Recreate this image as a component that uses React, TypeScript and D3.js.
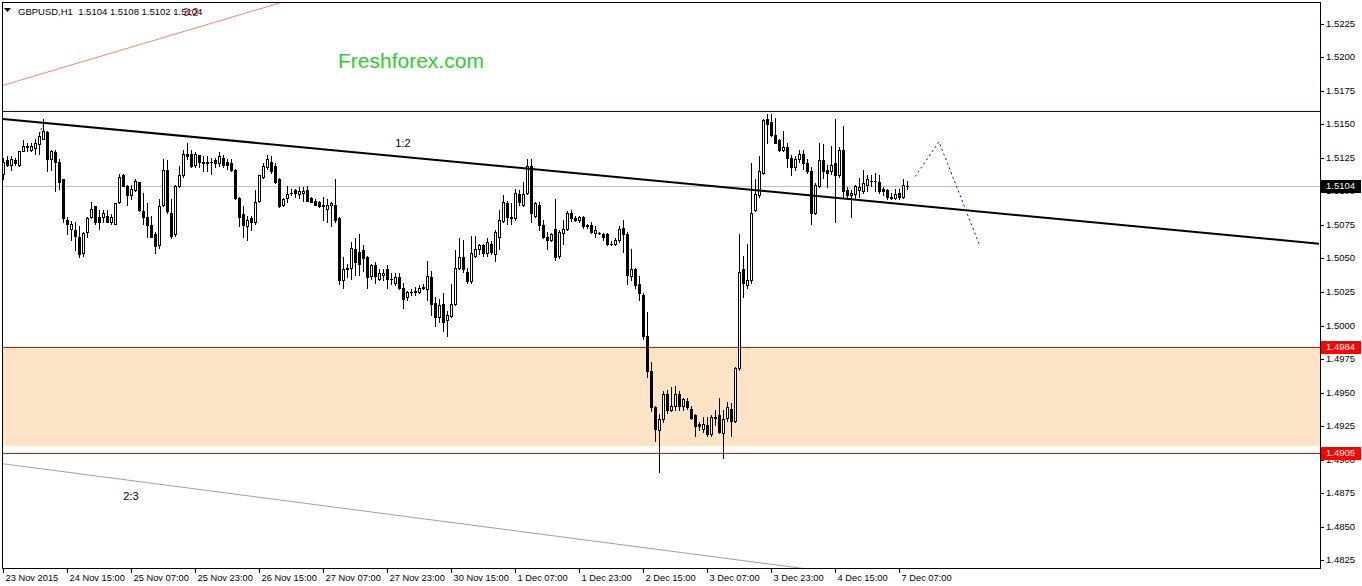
import React, {useEffect, useRef} from "react";
import * as d3 from "d3";

// GBPUSD H1, 23 Nov 2015 23:00 .. 7 Dec 2015 09:00 (one entry per hourly bar)
const opens = [
    1.5113, 1.5123, 1.5120, 1.5123, 1.5120, 1.5130, 1.5133, 1.5131, 1.5132, 1.5135,
    1.5139, 1.5144, 1.5124, 1.5129, 1.5122, 1.5109, 1.5079, 1.5072, 1.5071, 1.5066,
    1.5054, 1.5070, 1.5081, 1.5089, 1.5081, 1.5081, 1.5082, 1.5077, 1.5076, 1.5092,
    1.5112, 1.5104, 1.5097, 1.5101, 1.5107, 1.5085, 1.5081, 1.5075, 1.5068, 1.5060,
    1.5090, 1.5116, 1.5084, 1.5068, 1.5104, 1.5112, 1.5128, 1.5128, 1.5120, 1.5127,
    1.5122, 1.5121, 1.5122, 1.5123, 1.5121, 1.5125, 1.5122, 1.5121, 1.5116, 1.5095,
    1.5083, 1.5074, 1.5080, 1.5077, 1.5093, 1.5111, 1.5118, 1.5122, 1.5119, 1.5109,
    1.5090, 1.5095, 1.5099, 1.5101, 1.5098, 1.5099, 1.5101, 1.5095, 1.5093, 1.5092,
    1.5090, 1.5087, 1.5090, 1.5090, 1.5080, 1.5034, 1.5042, 1.5043, 1.5057, 1.5055,
    1.5056, 1.5051, 1.5037, 1.5045, 1.5035, 1.5038, 1.5042, 1.5035, 1.5032, 1.5036,
    1.5028, 1.5021, 1.5025, 1.5025, 1.5025, 1.5028, 1.5027, 1.5036, 1.5017, 1.5006,
    1.5016, 1.5004, 1.5007, 1.5016, 1.5043, 1.5051, 1.5040, 1.5033, 1.5052, 1.5057,
    1.5060, 1.5054, 1.5061, 1.5053, 1.5066, 1.5078, 1.5091, 1.5081, 1.5080, 1.5098,
    1.5090, 1.5099, 1.5119, 1.5082, 1.5090, 1.5075, 1.5066, 1.5064, 1.5072, 1.5052,
    1.5069, 1.5072, 1.5084, 1.5080, 1.5079, 1.5081, 1.5074, 1.5075, 1.5069, 1.5069,
    1.5068, 1.5068, 1.5061, 1.5061, 1.5064, 1.5073, 1.5068, 1.5037, 1.5042, 1.5031,
    1.5023, 1.4992, 1.4966, 1.4939, 1.4922, 1.4930, 1.4949, 1.4937, 1.4940, 1.4949,
    1.4940, 1.4944, 1.4938, 1.4933, 1.4927, 1.4923, 1.4926, 1.4919, 1.4932, 1.4933,
    1.4920, 1.4931, 1.4938, 1.4929, 1.4968, 1.5042, 1.5030, 1.5034, 1.5086, 1.5097,
    1.5114, 1.5154, 1.5152, 1.5142, 1.5138, 1.5131, 1.5133, 1.5125, 1.5118, 1.5124,
    1.5128, 1.5121, 1.5115, 1.5084, 1.5104, 1.5123, 1.5116, 1.5115, 1.5121, 1.5112,
    1.5131, 1.5101, 1.5097, 1.5098, 1.5101, 1.5100, 1.5105, 1.5108, 1.5108, 1.5107,
    1.5102, 1.5101, 1.5096, 1.5095, 1.5099, 1.5096, 1.5104,
];
const highs = [
    1.5125, 1.5126, 1.5126, 1.5125, 1.5130, 1.5138, 1.5136, 1.5136, 1.5139, 1.5144,
    1.5154, 1.5145, 1.5131, 1.5131, 1.5124, 1.5109, 1.5081, 1.5078, 1.5077, 1.5074,
    1.5070, 1.5081, 1.5092, 1.5089, 1.5086, 1.5086, 1.5086, 1.5083, 1.5091, 1.5113,
    1.5113, 1.5105, 1.5105, 1.5109, 1.5107, 1.5099, 1.5091, 1.5082, 1.5070, 1.5094,
    1.5124, 1.5123, 1.5094, 1.5105, 1.5119, 1.5131, 1.5136, 1.5131, 1.5129, 1.5127,
    1.5126, 1.5126, 1.5125, 1.5125, 1.5129, 1.5127, 1.5124, 1.5124, 1.5117, 1.5096,
    1.5089, 1.5082, 1.5082, 1.5101, 1.5112, 1.5121, 1.5127, 1.5126, 1.5121, 1.5110,
    1.5095, 1.5104, 1.5102, 1.5102, 1.5103, 1.5103, 1.5104, 1.5096, 1.5094, 1.5093,
    1.5096, 1.5094, 1.5092, 1.5109, 1.5081, 1.5051, 1.5046, 1.5062, 1.5065, 1.5068,
    1.5060, 1.5052, 1.5046, 1.5047, 1.5042, 1.5042, 1.5045, 1.5039, 1.5039, 1.5039,
    1.5032, 1.5026, 1.5027, 1.5029, 1.5030, 1.5031, 1.5048, 1.5041, 1.5021, 1.5020,
    1.5024, 1.5011, 1.5031, 1.5056, 1.5065, 1.5064, 1.5043, 1.5067, 1.5067, 1.5061,
    1.5061, 1.5065, 1.5063, 1.5071, 1.5086, 1.5097, 1.5093, 1.5091, 1.5102, 1.5101,
    1.5107, 1.5124, 1.5124, 1.5092, 1.5092, 1.5079, 1.5070, 1.5069, 1.5094, 1.5071,
    1.5079, 1.5085, 1.5086, 1.5082, 1.5082, 1.5082, 1.5076, 1.5077, 1.5074, 1.5070,
    1.5069, 1.5069, 1.5063, 1.5065, 1.5074, 1.5079, 1.5070, 1.5057, 1.5043, 1.5037,
    1.5024, 1.5010, 1.4973, 1.4940, 1.4934, 1.4951, 1.4952, 1.4954, 1.4955, 1.4951,
    1.4946, 1.4946, 1.4940, 1.4934, 1.4928, 1.4932, 1.4932, 1.4933, 1.4937, 1.4946,
    1.4937, 1.4943, 1.4942, 1.4969, 1.5068, 1.5052, 1.5061, 1.5121, 1.5109, 1.5126,
    1.5154, 1.5158, 1.5158, 1.5155, 1.5139, 1.5145, 1.5136, 1.5127, 1.5126, 1.5131,
    1.5131, 1.5124, 1.5118, 1.5106, 1.5136, 1.5135, 1.5120, 1.5134, 1.5154, 1.5133,
    1.5149, 1.5103, 1.5101, 1.5105, 1.5110, 1.5116, 1.5112, 1.5112, 1.5114, 1.5112,
    1.5103, 1.5102, 1.5099, 1.5102, 1.5102, 1.5109, 1.5108,
];
const lows = [
    1.5109, 1.5119, 1.5116, 1.5120, 1.5119, 1.5130, 1.5130, 1.5130, 1.5128, 1.5128,
    1.5139, 1.5115, 1.5116, 1.5100, 1.5102, 1.5077, 1.5068, 1.5064, 1.5056, 1.5051,
    1.5052, 1.5066, 1.5080, 1.5076, 1.5072, 1.5077, 1.5077, 1.5076, 1.5076, 1.5091,
    1.5104, 1.5090, 1.5094, 1.5100, 1.5085, 1.5076, 1.5066, 1.5066, 1.5054, 1.5058,
    1.5089, 1.5084, 1.5065, 1.5067, 1.5103, 1.5111, 1.5124, 1.5118, 1.5118, 1.5118,
    1.5115, 1.5115, 1.5113, 1.5118, 1.5119, 1.5118, 1.5117, 1.5115, 1.5094, 1.5074,
    1.5066, 1.5064, 1.5071, 1.5076, 1.5092, 1.5110, 1.5117, 1.5114, 1.5106, 1.5088,
    1.5089, 1.5092, 1.5097, 1.5096, 1.5095, 1.5093, 1.5093, 1.5092, 1.5090, 1.5088,
    1.5079, 1.5077, 1.5074, 1.5077, 1.5031, 1.5028, 1.5036, 1.5035, 1.5038, 1.5038,
    1.5041, 1.5028, 1.5035, 1.5032, 1.5034, 1.5034, 1.5028, 1.5031, 1.5030, 1.5027,
    1.5013, 1.5019, 1.5023, 1.5023, 1.5024, 1.5027, 1.5019, 1.5008, 1.5000, 1.5003,
    1.4996, 1.4992, 1.5006, 1.5015, 1.5042, 1.5040, 1.5032, 1.5032, 1.5051, 1.5053,
    1.5052, 1.5052, 1.5053, 1.5048, 1.5057, 1.5077, 1.5076, 1.5076, 1.5079, 1.5090,
    1.5089, 1.5098, 1.5077, 1.5081, 1.5071, 1.5065, 1.5057, 1.5063, 1.5049, 1.5050,
    1.5061, 1.5071, 1.5078, 1.5078, 1.5077, 1.5073, 1.5073, 1.5069, 1.5066, 1.5068,
    1.5064, 1.5060, 1.5060, 1.5060, 1.5062, 1.5055, 1.5031, 1.5034, 1.5028, 1.5019,
    1.4990, 1.4962, 1.4936, 1.4914, 1.4891, 1.4928, 1.4935, 1.4936, 1.4937, 1.4937,
    1.4937, 1.4938, 1.4930, 1.4918, 1.4922, 1.4921, 1.4918, 1.4918, 1.4926, 1.4920,
    1.4901, 1.4929, 1.4918, 1.4928, 1.4967, 1.5021, 1.5028, 1.5032, 1.5085, 1.5096,
    1.5113, 1.5136, 1.5141, 1.5136, 1.5130, 1.5130, 1.5118, 1.5112, 1.5116, 1.5122,
    1.5117, 1.5114, 1.5076, 1.5083, 1.5103, 1.5110, 1.5103, 1.5113, 1.5077, 1.5111,
    1.5095, 1.5096, 1.5081, 1.5095, 1.5096, 1.5099, 1.5100, 1.5104, 1.5100, 1.5099,
    1.5097, 1.5094, 1.5094, 1.5094, 1.5094, 1.5095, 1.5102,
];
const closes = [
    1.5122, 1.5120, 1.5124, 1.5121, 1.5130, 1.5134, 1.5134, 1.5134, 1.5136, 1.5141,
    1.5145, 1.5124, 1.5130, 1.5122, 1.5107, 1.5080, 1.5076, 1.5076, 1.5067, 1.5053,
    1.5069, 1.5080, 1.5087, 1.5077, 1.5077, 1.5084, 1.5077, 1.5081, 1.5091, 1.5111,
    1.5104, 1.5097, 1.5102, 1.5108, 1.5086, 1.5081, 1.5075, 1.5066, 1.5059, 1.5089,
    1.5116, 1.5085, 1.5067, 1.5104, 1.5112, 1.5128, 1.5126, 1.5119, 1.5128, 1.5122,
    1.5121, 1.5122, 1.5122, 1.5121, 1.5126, 1.5120, 1.5120, 1.5116, 1.5095, 1.5081,
    1.5075, 1.5079, 1.5077, 1.5092, 1.5112, 1.5119, 1.5124, 1.5115, 1.5107, 1.5089,
    1.5094, 1.5098, 1.5099, 1.5099, 1.5100, 1.5100, 1.5093, 1.5092, 1.5090, 1.5089,
    1.5089, 1.5090, 1.5091, 1.5079, 1.5034, 1.5042, 1.5043, 1.5058, 1.5047, 1.5046,
    1.5050, 1.5036, 1.5045, 1.5037, 1.5039, 1.5039, 1.5035, 1.5035, 1.5036, 1.5028,
    1.5020, 1.5025, 1.5025, 1.5026, 1.5028, 1.5029, 1.5037, 1.5016, 1.5006, 1.5015,
    1.5003, 1.5008, 1.5016, 1.5043, 1.5051, 1.5042, 1.5033, 1.5054, 1.5057, 1.5060,
    1.5054, 1.5062, 1.5055, 1.5070, 1.5079, 1.5092, 1.5081, 1.5080, 1.5099, 1.5092,
    1.5098, 1.5119, 1.5084, 1.5091, 1.5075, 1.5066, 1.5064, 1.5068, 1.5051, 1.5070,
    1.5072, 1.5084, 1.5080, 1.5079, 1.5081, 1.5074, 1.5075, 1.5070, 1.5071, 1.5069,
    1.5066, 1.5061, 1.5061, 1.5064, 1.5072, 1.5068, 1.5038, 1.5042, 1.5030, 1.5024,
    1.4992, 1.4966, 1.4939, 1.4923, 1.4930, 1.4949, 1.4937, 1.4940, 1.4949, 1.4940,
    1.4945, 1.4939, 1.4931, 1.4925, 1.4925, 1.4927, 1.4919, 1.4932, 1.4931, 1.4921,
    1.4930, 1.4939, 1.4929, 1.4968, 1.5040, 1.5032, 1.5034, 1.5084, 1.5098, 1.5115,
    1.5153, 1.5150, 1.5142, 1.5136, 1.5131, 1.5133, 1.5125, 1.5118, 1.5124, 1.5128,
    1.5121, 1.5115, 1.5084, 1.5105, 1.5123, 1.5115, 1.5114, 1.5120, 1.5112, 1.5131,
    1.5100, 1.5097, 1.5099, 1.5104, 1.5103, 1.5106, 1.5109, 1.5108, 1.5108, 1.5100,
    1.5100, 1.5096, 1.5095, 1.5098, 1.5096, 1.5105, 1.5104,
];

const timeLabels = [
    "23 Nov 2015", "24 Nov 15:00", "25 Nov 07:00", "25 Nov 23:00", "26 Nov 15:00",
    "27 Nov 07:00", "27 Nov 23:00", "30 Nov 15:00", "1 Dec 07:00", "1 Dec 23:00",
    "2 Dec 15:00", "3 Dec 07:00", "3 Dec 23:00", "4 Dec 15:00", "7 Dec 07:00",
];
const timeLabelBars = [0, 16, 32, 48, 64, 80, 96, 112, 128, 144, 160, 176, 192, 208, 224];
const priceTicks = [
    1.5225, 1.52, 1.5175, 1.515, 1.5125, 1.51, 1.5075, 1.505, 1.5025,
    1.5, 1.4975, 1.495, 1.4925, 1.49, 1.4875, 1.485, 1.4825,
];

const title = "GBPUSD,H1  1.5104 1.5108 1.5102 1.5104";
const watermark = "Freshforex.com";
const bidPrice = 1.5104;
const resistancePrice = 1.516;
const supportTop = 1.4984;
const supportBottom = 1.4905;
const zoneBottom = 1.491;
// trend lines as [bar, price] anchors
const trend12 = [[0, 1.5154], [329, 1.5061]];
const trend32 = [[0, 1.5179], [80, 1.5250]];
const trend23 = [[0, 1.4897], [200, 1.4819]];
const forecast = [[228, 1.5111], [234, 1.5137], [244, 1.5061]];
const marker = [[9.1, 1.5143], [9.9, 1.5149]];
const lineLabels = [
    {text: "1:2", bar: 100, price: 1.5135, color: "#000"},
    {text: "2:3", bar: 32, price: 1.4872, color: "#000"},
    {text: "3:2", bar: 47, price: 1.5233, color: "#e00000"},
];

const W = 1362;
const H = 586;
const font = "'Liberation Sans', Arial, sans-serif";

export default function App() {
    const ref = useRef<SVGSVGElement>(null);

    useEffect(() => {
        const svg = d3.select(ref.current);
        svg.selectAll("*").remove();

        const left = 2, right = 1320, top = 2, bottom = 568;
        const x = d3.scaleLinear().domain([0, 329.25]).range([3, 1320]);
        const y = d3.scaleLinear().domain([1.4825, 1.5225]).range([560.4, 23.6]);

        svg.append("rect").attr("width", W).attr("height", H).attr("fill", "#fff");

        svg.append("defs").append("clipPath").attr("id", "plot")
            .append("rect").attr("x", left).attr("y", top)
            .attr("width", right - left).attr("height", bottom - top);

        const g = svg.append("g").attr("clip-path", "url(#plot)");

        // support zone
        g.append("rect")
            .attr("x", left).attr("width", right - left)
            .attr("y", Math.round(y(supportTop)))
            .attr("height", Math.round(y(zoneBottom)) - Math.round(y(supportTop)))
            .attr("fill", "#fde4c6");

        const hline = (p: number, color: string) => g.append("line")
            .attr("x1", left).attr("x2", right)
            .attr("y1", Math.round(y(p)) + 0.5).attr("y2", Math.round(y(p)) + 0.5)
            .attr("stroke", color).attr("stroke-width", 1)
            .attr("shape-rendering", "crispEdges");
        hline(bidPrice, "#c0c0c0");
        hline(resistancePrice, "#0000c8");
        hline(supportTop, "#ff0000");
        hline(supportBottom, "#ff0000");

        const line = d3.line<number[]>().x(d => x(d[0])).y(d => y(d[1]));
        g.append("path").attr("d", line(trend32)).attr("fill", "none")
            .attr("stroke", "#f4866a").attr("stroke-width", 1);
        g.append("path").attr("d", line(trend23)).attr("fill", "none")
            .attr("stroke", "#a0a0a0").attr("stroke-width", 1);

        // candles
        const cg = g.append("g").attr("shape-rendering", "crispEdges");
        opens.forEach((o, i) => {
            const c = closes[i];
            const cx = Math.round(x(i));
            const yh = Math.round(y(highs[i]));
            const yl = Math.round(y(lows[i]));
            const yt = Math.round(y(Math.max(o, c)));
            const yb = Math.round(y(Math.min(o, c)));
            cg.append("rect").attr("x", cx).attr("y", yh).attr("width", 1)
                .attr("height", yl - yh + 1).attr("fill", "#000");
            cg.append("rect").attr("x", cx - 1).attr("y", yt).attr("width", 3)
                .attr("height", yb - yt + 1).attr("fill", "#000");
            if (c > o && yb - yt >= 2) {
                cg.append("rect").attr("x", cx).attr("y", yt + 1).attr("width", 1)
                    .attr("height", yb - yt - 1).attr("fill", "#fff");
            }
        });

        g.append("path").attr("d", line(trend12)).attr("fill", "none")
            .attr("stroke", "#000").attr("stroke-width", 2);
        g.append("path").attr("d", line(forecast)).attr("fill", "none")
            .attr("stroke", "#0000ff").attr("stroke-width", 1).attr("stroke-dasharray", "2,3");
        g.append("path").attr("d", line(marker)).attr("fill", "none")
            .attr("stroke", "#0000ff").attr("stroke-width", 1).attr("stroke-dasharray", "2,2");

        lineLabels.forEach(l => {
            g.append("text").attr("x", x(l.bar)).attr("y", y(l.price))
                .attr("text-anchor", "middle").attr("dominant-baseline", "middle")
                .attr("font-family", font).attr("font-size", 11).attr("fill", l.color)
                .text(l.text);
        });

        g.append("text").attr("x", 338).attr("y", 68)
            .attr("font-family", font).attr("font-size", 21).attr("fill", "#2fcb2f")
            .text(watermark);

        // frame
        svg.append("rect").attr("x", left + 0.5).attr("y", top + 0.5)
            .attr("width", right - left).attr("height", bottom - top)
            .attr("fill", "none").attr("stroke", "#000").attr("shape-rendering", "crispEdges");

        // header
        svg.append("path").attr("d", "M4,8 L11,8 L7.5,12 Z").attr("fill", "#000");
        svg.append("text").attr("x", 18).attr("y", 15)
            .attr("font-family", font).attr("font-size", 9.5).attr("fill", "#000")
            .attr("xml:space", "preserve").style("white-space", "pre")
            .text(title);

        // price axis
        const pa = svg.append("g");
        priceTicks.forEach(p => {
            const yy = Math.round(y(p)) + 0.5;
            pa.append("line").attr("x1", right).attr("x2", right + 4)
                .attr("y1", yy).attr("y2", yy).attr("stroke", "#000")
                .attr("shape-rendering", "crispEdges");
            pa.append("text").attr("x", right + 6).attr("y", yy)
                .attr("dominant-baseline", "middle")
                .attr("font-family", font).attr("font-size", 9.5).attr("fill", "#000")
                .text(d3.format(".4f")(p));
        });
        const tag = (p: number, bg: string) => {
            const yy = Math.round(y(p));
            pa.append("rect").attr("x", right + 1).attr("y", yy - 6)
                .attr("width", 40).attr("height", 13).attr("fill", bg);
            pa.append("text").attr("x", right + 6).attr("y", yy + 0.5)
                .attr("dominant-baseline", "middle")
                .attr("font-family", font).attr("font-size", 9.5).attr("fill", "#fff")
                .text(d3.format(".4f")(p));
        };
        tag(bidPrice, "#000");
        tag(supportTop, "#ff0000");
        tag(supportBottom, "#ff0000");

        // time axis
        timeLabelBars.forEach((b, k) => {
            const xx = Math.round(x(b)) + 0.5;
            svg.append("line").attr("x1", xx).attr("x2", xx)
                .attr("y1", bottom).attr("y2", bottom + 5).attr("stroke", "#000")
                .attr("shape-rendering", "crispEdges");
            svg.append("text").attr("x", xx + 2).attr("y", 581)
                .attr("font-family", font).attr("font-size", 9.3).attr("fill", "#000")
                .text(timeLabels[k]);
        });
    }, []);

    return (
        <svg ref={ref} width={W} height={H}
             style={{position: "absolute", left: 0, top: 0, display: "block"}}/>
    );
}
